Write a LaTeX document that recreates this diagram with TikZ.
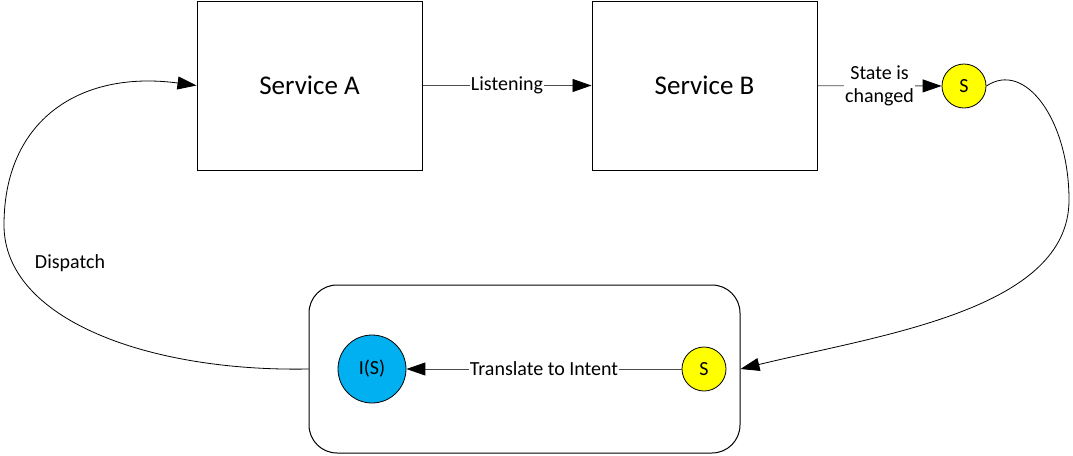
\documentclass[tikz,border=0pt]{standalone}
\usepackage{fontspec}
\setmainfont{Carlito}
\usetikzlibrary{arrows.meta}
\definecolor{stateyellow}{RGB}{255,255,0}
\definecolor{intentblue}{RGB}{0,176,240}

\begin{document}
\begin{tikzpicture}
			[
				x                  = 1pt,
				y                  = -1pt,
				font               = \fontsize{20}{24}\selectfont,
				service/.style     = {draw, line width=1pt, minimum width=225pt, minimum height=169pt, inner sep=0pt, font=\fontsize{27}{32}\selectfont},
				state/.style       = {circle, draw, line width=0.8pt, fill=stateyellow, minimum size=44pt, inner sep=0pt},
				intent/.style      = {circle, draw, line width=0.8pt, fill=intentblue, minimum size=68pt, inner sep=0pt},
				flow/.style        = {draw=black!70, line width=0.9pt, -{Triangle[length=19pt,width=13pt,color=black]}},
				curved/.style      = {draw=black, line width=0.8pt, -{Triangle[length=19pt,width=13pt]}},
				lbl/.style         = {fill=white, inner sep=1pt, align=center}
			]
			\useasboundingbox (0,0) rectangle (1073,455);
			\node [service] (sA) at (309.5,85.5) {Service A};
			\node [service] (sB) at (704.5,85.5) {Service B};
			\node [state] (sOut) at (964,86) {S};
			\node [draw, line width=1pt, rounded corners=28pt, minimum width=431pt, minimum height=168pt] (grp) at (524.5,369) {};
			\node [state] (sIn) at (704,369) {S};
			\node [intent] (iS) at (372,369) {I(S)};
			\node (dispatch) at (70,263) {Dispatch};
			\draw [flow] (sA) -- node [lbl] {Listening} (sB);
			\draw [flow] (sB) -- node [lbl] {State is\\changed} (sOut);
			\draw [flow] (sIn) -- node [lbl] {Translate to Intent} (iS);
			\draw [curved] (sOut.east) .. controls (1025,60) and (1069,120) .. (1069,200)
									   .. controls (1069,310) and (880,335) .. (grp.east);
			\draw [curved] (grp.west) .. controls (150,372) and (4,320) .. (4,225)
									  .. controls (4,120) and (80,70) .. (sA.west);
		\end{tikzpicture}
\end{document}
